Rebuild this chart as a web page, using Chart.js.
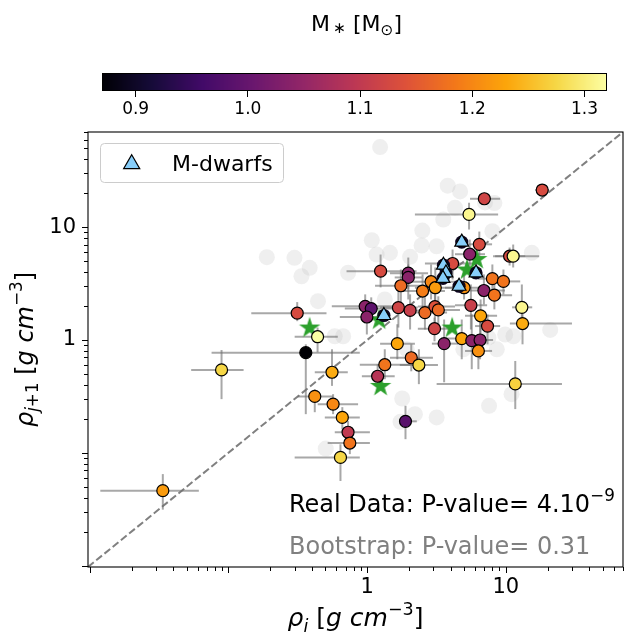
<!DOCTYPE html>
<html>
<head>
<meta charset="utf-8">
<script src="https://cdn.jsdelivr.net/npm/chart.js@4.4.0/dist/chart.umd.min.js"></script>
<style>
body { margin: 0; background: #fff; }
#wrap { position: relative; width: 624px; height: 635px; }
canvas { position: absolute; left: 0; top: 0; }
</style>
</head>
<body>
<div id="wrap">
<canvas id="main" width="624" height="635"></canvas>
<canvas id="cbar" width="624" height="130"></canvas>
</div>
<script>
// planets with measured densities (inner rho_i, outer rho_j+1), coloured by host mass
var rhoI  = [0.0336, 0.0891, 0.313, 0.439, 0.361, 0.558, 0.419, 0.568, 0.662, 0.728, 0.750, 0.642, 1.89, 11.7,
             18.3, 7.0, 5.43, 6.44, 5.49, 10.65, 11.3, 4.13, 1.25, 1.98, 1.98, 1.75, 2.89, 2.51, 3.10, 5.0,
             8.0, 9.61, 6.95, 8.27, 13.05, 13.2, 0.968, 1.07, 0.995, 1.68, 2.04, 2.61, 3.08, 3.26, 5.60, 6.58,
             7.38, 3.06, 3.59, 4.81, 5.68, 6.52, 6.34, 1.65, 2.08, 2.36, 1.34, 1.19];
var rhoJ  = [0.0461, 0.543, 1.73, 1.07, 0.773, 0.518, 0.316, 0.270, 0.206, 0.152, 0.122, 0.091, 0.190, 0.408,
             21.4, 17.9, 13.0, 7.06, 5.77, 5.54, 5.54, 4.77, 4.08, 3.92, 3.59, 3.03, 3.29, 2.72, 2.91, 2.91,
             3.50, 3.31, 2.75, 2.50, 1.95, 1.40, 1.99, 1.90, 1.60, 1.94, 1.83, 1.75, 1.98, 1.85, 2.03, 1.64,
             1.33, 1.26, 0.929, 1.03, 0.988, 1.00, 0.80, 0.929, 0.696, 0.600, 0.604, 0.477];
var mStar = [1.22, 1.275, 1.13, 1.32, 0.86, 1.235, 1.21, 1.20, 1.23, 1.10, 1.18, 1.275, 0.985, 1.27,
             1.13, 1.12, 1.31, 1.13, 1.04, 1.13, 1.31, 1.13, 1.13, 1.04, 1.04, 1.17, 1.20, 1.19, 1.22, 1.21,
             1.18, 1.18, 1.04, 1.18, 1.31, 1.235, 1.04, 0.99, 1.04, 1.12, 1.11, 1.17, 1.14, 1.17, 1.11, 1.23,
             1.13, 1.12, 1.04, 1.23, 1.04, 1.04, 1.21, 1.23, 1.17, 1.275, 1.18, 1.09];
var rhoILo = [0.0119, 0.0538, 0.146, 0.300, 0.0755, 0.419, 0.315, 0.44, 0.495, 0.584, 0.519, 0.300, 1.77, 3.17,
              16.3, 5.52, 2.21, 5.34, 4.30, 8.37, 8.09, 2.61, 0.71, 1.46, 1.58, 1.14, 1.87, 1.72, 2.21, 3.64,
              6.31, 7.70, 5.52, 6.52, 11.1, 10.7, 0.556, 0.690, 0.635, 1.24, 1.53, 1.87, 2.32, 2.40, 4.30, 5.08,
              6.0, 2.32, 2.93, 3.64, 4.30, 5.25, 5.08, 1.24, 1.46, 1.72, 0.885, 0.916];
var rhoIHi = [0.0611, 0.1285, 0.509, 0.614, 0.885, 0.725, 0.565, 0.86, 0.885, 1.046, 1.046, 0.885, 2.28, 25.4,
              20.5, 9.1, 8.80, 7.96, 7.08, 13.8, 17.4, 6.52, 2.27, 2.75, 2.48, 2.61, 4.67, 3.64, 4.52, 7.70,
              10.4, 12.7, 9.87, 11.1, 15.5, 30.0, 1.64, 1.58, 1.46, 2.32, 2.84, 3.77, 4.30, 4.67, 7.33, 8.65,
              9.10, 4.16, 4.52, 6.31, 7.33, 8.09, 7.96, 2.21, 2.98, 3.24, 2.04, 1.58];
var rhoJLo = [0.0313, 0.299, 1.47, 0.778, 0.220, 0.392, 0.229, 0.220, 0.162, 0.119, 0.0973, 0.0562, 0.132, 0.244,
              19.5, 15.9, 9.55, 5.39, 4.22, 4.58, 4.40, 3.44, 2.93, 2.81, 2.29, 2.07, 2.29, 1.87, 2.07, 2.29,
              2.70, 2.54, 2.07, 1.87, 1.32, 0.916, 1.52, 1.46, 1.12, 1.29, 1.24, 1.24, 1.38, 1.38, 1.24, 1.12,
              0.916, 0.974, 0.422, 0.675, 0.551, 0.675, 0.551, 0.675, 0.528, 0.406, 0.449, 0.352];
var rhoJHi = [0.0647, 0.816, 2.17, 1.29, 0.916, 0.828, 0.366, 0.331, 0.254, 0.191, 0.147, 0.119, 0.261, 0.652,
              23.4, 20.3, 16.5, 9.16, 7.78, 6.61, 7.03, 6.35, 5.73, 5.39, 4.68, 4.22, 4.68, 3.82, 4.40, 3.82,
              4.68, 4.22, 3.82, 3.11, 3.11, 2.07, 2.54, 2.39, 2.07, 2.81, 2.54, 2.39, 2.81, 2.44, 3.11, 2.29,
              1.69, 1.58, 1.52, 1.52, 1.69, 1.58, 1.12, 1.38, 0.916, 0.828, 0.828, 0.609];

// M-dwarf hosts
var mdX = [4.81, 3.55, 3.70, 3.52, 6.10, 4.60, 1.32];
var mdY = [7.39, 4.61, 3.94, 3.52, 3.94, 3.00, 1.65];

// green stars
var starX = [0.385, 6.17, 5.25, 4.10, 1.25, 1.22];
var starY = [1.29, 5.23, 4.22, 1.29, 0.392, 1.52];

// full sample in the background
var allX = [1.24, 3.81, 4.68, 4.30, 3.54, 7.08, 8.27, 2.50, 1.08, 1.17, 1.46, 2.04, 2.47, 3.17, 8.0, 15.4,
            0.385, 0.336, 0.189, 0.299, 0.442, 0.729, 1.34, 0.584, 0.671, 1.93, 8.61, 9.89, 11.35, 20.9, 7.49,
            4.94, 1.79, 2.21, 3.17, 1.74, 7.57, 11.0, 0.503];
var allY = [51.4, 23.4, 20.8, 14.9, 11.7, 16.6, 16.4, 9.35, 7.67, 5.73, 5.93, 5.47, 6.89, 6.79, 9.22, 5.93,
            4.37, 3.68, 5.43, 5.36, 2.21, 3.95, 2.29, 1.08, 1.08, 0.827, 0.827, 1.12, 1.08, 1.23, 1.05,
            0.827, 0.303, 0.220, 0.206, 0.188, 0.261, 0.331, 0.109];

var axMin = 0.0097, axMax = 70;
var tickLabels = [1, 10];
var mMin = 0.87, mMax = 1.32;
var cbTicks = [0.9, 1.0, 1.1, 1.2, 1.3];

Chart.defaults.font.family = '"DejaVu Sans"';

var infernoStops = ['#000004', '#160b39', '#420a68', '#6a176e', '#932667', '#bc3754',
                    '#dd513a', '#f37819', '#fca50a', '#f6d746', '#fcffa4'];
function hexRgb(h) {
    return [parseInt(h.substr(1, 2), 16), parseInt(h.substr(3, 2), 16), parseInt(h.substr(5, 2), 16)];
}
function inferno(t) {
    t = Math.max(0, Math.min(1, t));
    var f = t * (infernoStops.length - 1);
    var i = Math.min(Math.floor(f), infernoStops.length - 2), u = f - i;
    var a = hexRgb(infernoStops[i]), b = hexRgb(infernoStops[i + 1]);
    return 'rgb(' + Math.round(a[0] + (b[0] - a[0]) * u) + ',' + Math.round(a[1] + (b[1] - a[1]) * u) + ',' +
        Math.round(a[2] + (b[2] - a[2]) * u) + ')';
}
function massColor(m) { return inferno((m - mMin) / (mMax - mMin)); }

// log tick positions 1..9 x 10^k inside the axis range
var logTicks = [];
for (var e = -2; e <= 1; e++) {
    for (var k = 1; k <= 9; k++) {
        var v = e >= 0 ? k * Math.pow(10, e) : parseFloat((k * Math.pow(10, e)).toPrecision(3));
        if (v >= axMin && v <= axMax) logTicks.push(v);
    }
}

function pts(xs, ys) { return xs.map(function (x, i) { return { x: x, y: ys[i] }; }); }

// filled star marker
var starImg = document.createElement('canvas');
starImg.width = 24; starImg.height = 24;
(function () {
    var c = starImg.getContext('2d');
    c.fillStyle = '#2ca02c';
    c.beginPath();
    for (var k = 0; k < 10; k++) {
        var r = k % 2 ? 4.3 : 11.2;
        var a = -Math.PI / 2 + k * Math.PI / 5;
        c.lineTo(12 + r * Math.cos(a), 12.5 + r * Math.sin(a));
    }
    c.closePath();
    c.fill();
})();

// text with sub/superscripts: parts = [text, italic, scale, shift(em)]
function richWidth(ctx, parts, size) {
    var w = 0;
    parts.forEach(function (p) {
        ctx.font = (p[1] ? 'italic ' : '') + (size * (p[2] || 1)).toFixed(1) + 'px "DejaVu Sans"';
        w += ctx.measureText(p[0]).width;
    });
    return w;
}
function drawRich(ctx, parts, x, y, size, align) {
    var w = richWidth(ctx, parts, size);
    var cx = align === 'center' ? x - w / 2 : x;
    ctx.textAlign = 'left';
    ctx.textBaseline = 'alphabetic';
    parts.forEach(function (p) {
        ctx.font = (p[1] ? 'italic ' : '') + (size * (p[2] || 1)).toFixed(1) + 'px "DejaVu Sans"';
        ctx.fillText(p[0], cx, y + (p[3] || 0) * size);
        cx += ctx.measureText(p[0]).width;
    });
}

var errorBars = {
    id: 'errorBars',
    beforeDatasetDraw: function (chart, args) {
        if (chart.data.datasets[args.index].label !== 'stars') return;
        var xs = chart.scales.x, ys = chart.scales.y, ctx = chart.ctx, a = chart.chartArea;
        ctx.save();
        ctx.beginPath();
        ctx.rect(a.left, a.top, a.right - a.left, a.bottom - a.top);
        ctx.clip();
        ctx.strokeStyle = 'rgba(110,110,110,0.6)';
        ctx.lineWidth = 2;
        for (var i = 0; i < rhoI.length; i++) {
            var px = xs.getPixelForValue(rhoI[i]), py = ys.getPixelForValue(rhoJ[i]);
            ctx.beginPath();
            ctx.moveTo(xs.getPixelForValue(rhoILo[i]), py);
            ctx.lineTo(xs.getPixelForValue(rhoIHi[i]), py);
            ctx.stroke();
            ctx.beginPath();
            ctx.moveTo(px, ys.getPixelForValue(rhoJLo[i]));
            ctx.lineTo(px, ys.getPixelForValue(rhoJHi[i]));
            ctx.stroke();
        }
        ctx.restore();
    }
};

var frame = {
    id: 'frame',
    afterDraw: function (chart) {
        var ctx = chart.ctx, a = chart.chartArea, xs = chart.scales.x, ys = chart.scales.y;
        ctx.save();
        ctx.strokeStyle = '#000';
        ctx.lineWidth = 1.1;
        ctx.strokeRect(a.left, a.top, a.right - a.left, a.bottom - a.top);
        ctx.lineWidth = 1;
        logTicks.forEach(function (v) {
            var lg = Math.log10(v), major = Math.abs(lg - Math.round(lg)) < 1e-6;
            var len = major ? 6 : 4;
            var px = Math.round(xs.getPixelForValue(v)) + 0.5;
            ctx.beginPath(); ctx.moveTo(px, a.bottom); ctx.lineTo(px, a.bottom + len); ctx.stroke();
            var py = Math.round(ys.getPixelForValue(v)) + 0.5;
            ctx.beginPath(); ctx.moveTo(a.left, py); ctx.lineTo(a.left - len, py); ctx.stroke();
        });

        // axis labels
        ctx.fillStyle = '#000';
        drawRich(ctx, [['ρ', 1], ['i', 1, 0.7, 0.22], [' [', 0], ['g', 1], [' ', 0], ['cm', 1],
            ['−3', 0, 0.7, -0.45], [']', 0]], (a.left + a.right) / 2, 626, 25, 'center');
        ctx.save();
        ctx.translate(33, (a.top + a.bottom) / 2);
        ctx.rotate(-Math.PI / 2);
        drawRich(ctx, [['ρ', 1], ['j', 1, 0.7, 0.22], ['+1', 0, 0.7, 0.22], [' [', 0], ['g', 1], [' ', 0], ['cm', 1],
            ['−3', 0, 0.7, -0.45], [']', 0]], 0, 0, 24, 'center');
        ctx.restore();

        // statistics
        drawRich(ctx, [['Real Data: P-value= 4.10', 0], ['−9', 0, 0.7, -0.45]], 289, 512, 24, 'left');
        ctx.fillStyle = '#808080';
        drawRich(ctx, [['Bootstrap: P-value= 0.31', 0]], 289, 554, 24, 'left');

        // legend
        ctx.beginPath();
        ctx.roundRect(100.5, 143.5, 183, 39, 4);
        ctx.fillStyle = 'rgba(255,255,255,0.8)';
        ctx.fill();
        ctx.strokeStyle = '#cccccc';
        ctx.lineWidth = 1;
        ctx.stroke();
        var tx = 131.7, ty = 164, R = 9.3;
        ctx.beginPath();
        ctx.moveTo(tx, ty - R);
        ctx.lineTo(tx + R * Math.sin(2 * Math.PI / 3), ty - R * Math.cos(2 * Math.PI / 3));
        ctx.lineTo(tx + R * Math.sin(4 * Math.PI / 3), ty - R * Math.cos(4 * Math.PI / 3));
        ctx.closePath();
        ctx.fillStyle = '#87cefa';
        ctx.fill();
        ctx.strokeStyle = '#000';
        ctx.lineWidth = 1.2;
        ctx.stroke();
        ctx.fillStyle = '#000';
        drawRich(ctx, [['M-dwarfs', 0]], 172, 171, 22, 'left');
        ctx.restore();
    }
};

function noPad(s) { s.paddingLeft = 0; s.paddingRight = 0; s.paddingTop = 0; s.paddingBottom = 0; }

new Chart(document.getElementById('main'), {
    type: 'scatter',
    data: {
        datasets: [
            { label: 'mdwarfs', data: pts(mdX, mdY), pointStyle: 'triangle', pointRadius: 8,
              backgroundColor: '#87cefa', borderColor: '#000', borderWidth: 1.2, order: 1 },
            { label: 'mdhost', data: pts(mdX, mdY), pointRadius: 6.6, backgroundColor: '#0d0620',
              borderWidth: 0, order: 2 },
            { label: 'planets', data: pts(rhoI, rhoJ), pointRadius: 6, backgroundColor: mStar.map(massColor),
              borderColor: '#000', borderWidth: 1.2, order: 3 },
            { label: 'stars', data: pts(starX, starY), pointStyle: starImg, pointRadius: 10, order: 4 },
            { label: 'diag', data: [{ x: axMin, y: axMin }, { x: axMax, y: axMax }], showLine: true,
              borderColor: '#808080', borderWidth: 2, borderDash: [7.4, 3.2], pointRadius: 0, order: 5 },
            { label: 'all', data: pts(allX, allY), pointRadius: 8, backgroundColor: 'rgba(190,190,190,0.24)',
              borderWidth: 0, order: 6 }
        ]
    },
    options: {
        responsive: false,
        animation: false,
        devicePixelRatio: 1,
        events: [],
        layout: { autoPadding: false, padding: { top: 132, right: 1, left: 0, bottom: 0 } },
        plugins: { legend: { display: false }, tooltip: { enabled: false } },
        scales: {
            x: {
                type: 'logarithmic', min: axMin, max: axMax, bounds: 'data',
                afterBuildTicks: function (s) { s.ticks = logTicks.map(function (v) { return { value: v }; }); },
                afterFit: function (s) { s.height = 68; noPad(s); },
                grid: { display: false, drawTicks: true, tickLength: 6 },
                border: { display: false },
                ticks: { autoSkip: false, maxRotation: 0, padding: 2, color: '#000', font: { size: 21 },
                         callback: function (v) { return tickLabels.indexOf(v) >= 0 ? String(v) : ''; } }
            },
            y: {
                type: 'logarithmic', min: axMin, max: axMax, bounds: 'data',
                afterBuildTicks: function (s) { s.ticks = logTicks.map(function (v) { return { value: v }; }); },
                afterFit: function (s) { s.width = 88; noPad(s); },
                grid: { display: false, drawTicks: true, tickLength: 6 },
                border: { display: false },
                ticks: { autoSkip: false, padding: 6, color: '#000', font: { size: 21 },
                         callback: function (v) { return tickLabels.indexOf(v) >= 0 ? String(v) : ''; } }
            }
        }
    },
    plugins: [errorBars, frame]
});

var cbarPlugin = {
    id: 'cbarPlugin',
    beforeDatasetsDraw: function (chart) {
        var ctx = chart.ctx, a = chart.chartArea, xs = chart.scales.x;
        ctx.save();
        for (var px = Math.floor(a.left); px < a.right; px++) {
            var v = xs.getValueForPixel(px + 0.5);
            ctx.fillStyle = massColor(v);
            ctx.fillRect(px, a.top, 1, a.bottom - a.top);
        }
        ctx.strokeStyle = '#000';
        ctx.lineWidth = 1;
        ctx.strokeRect(a.left + 0.5, a.top + 0.5, a.right - a.left - 1, a.bottom - a.top - 1);
        ctx.fillStyle = '#000';
        drawRich(ctx, [['M', 0], ['\u2009∗', 0, 0.7, 0.1], [' [M', 0], ['⊙', 0, 0.7, 0.2], [']', 0]],
            (a.left + a.right) / 2 + 2, 31, 22, 'center');
        ctx.restore();
    }
};

new Chart(document.getElementById('cbar'), {
    type: 'scatter',
    data: { datasets: [{ data: [] }] },
    options: {
        responsive: false,
        animation: false,
        devicePixelRatio: 1,
        events: [],
        layout: { autoPadding: false, padding: { left: 102, right: 17, top: 73, bottom: 0 } },
        plugins: { legend: { display: false }, tooltip: { enabled: false } },
        scales: {
            x: {
                type: 'linear', min: mMin, max: mMax,
                afterBuildTicks: function (s) { s.ticks = cbTicks.map(function (v) { return { value: v }; }); },
                afterFit: function (s) { s.height = 39; noPad(s); },
                grid: { display: true, drawOnChartArea: false, drawTicks: true, tickLength: 6, color: '#000', lineWidth: 1 },
                border: { display: false },
                ticks: { autoSkip: false, maxRotation: 0, padding: 2, color: '#000', font: { size: 17 },
                         callback: function (v) { return Number(v).toFixed(1); } }
            },
            y: { display: false, min: 0, max: 1 }
        }
    },
    plugins: [cbarPlugin]
});
</script>
</body>
</html>
